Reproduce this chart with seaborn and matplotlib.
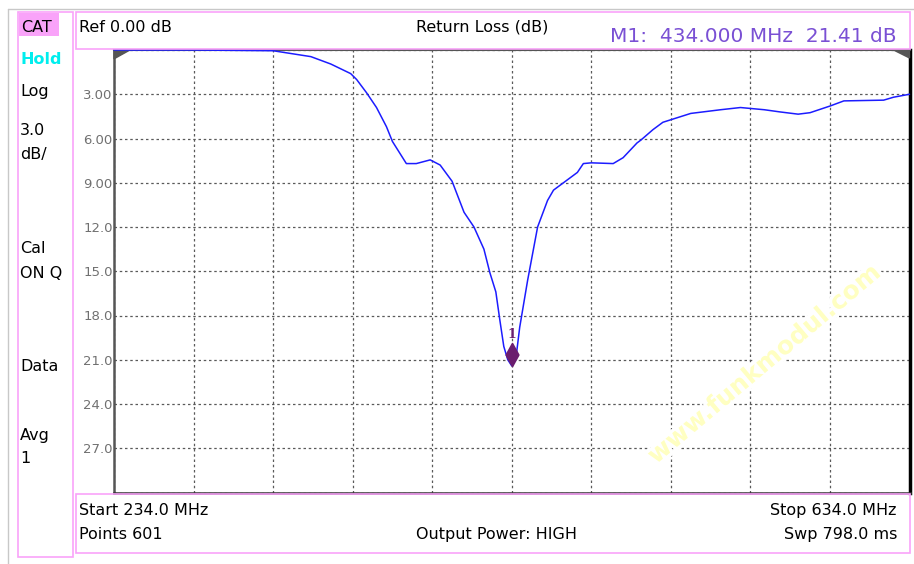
import numpy as np
import matplotlib
matplotlib.use("Agg")
import matplotlib.pyplot as plt
import matplotlib.patches as mpatches
import matplotlib.patheffects as pe
from matplotlib.path import Path
import seaborn as sns

# Trace (frequency in MHz, return loss in dB)
freq_mhz = [234, 274, 314, 333, 343, 353, 356, 361, 366, 371, 374, 381, 386, 393,
            398, 404, 410, 415, 420, 423, 426, 428, 430, 432, 434, 436, 438, 442,
            447, 452, 455, 462, 467, 470, 474, 485, 490, 497, 499, 505, 510, 524,
            539, 549, 561, 569, 578, 584, 594, 601, 621, 626, 634]
return_loss_db = [0.0, 0.0, 0.05, 0.45, 0.95, 1.6, 2.0, 2.9, 3.9, 5.2, 6.2, 7.7, 7.7, 7.45,
                  7.8, 8.9, 11.0, 12.0, 13.5, 15.1, 16.4, 18.3, 20.1, 21.0, 21.41, 21.0, 18.8, 15.6,
                  12.0, 10.2, 9.5, 8.8, 8.3, 7.7, 7.65, 7.7, 7.3, 6.3, 6.1, 5.4, 4.9, 4.3,
                  4.05, 3.9, 4.05, 4.2, 4.35, 4.25, 3.8, 3.45, 3.4, 3.2, 3.0]

marker_freq = 434.000
marker_db = 21.41

start_mhz = 234.0
stop_mhz = 634.0
ref_db = 0.0
scale_db = 3.0
y_tick_labels = ["", "3.00", "6.00", "9.00", "12.0", "15.0", "18.0", "21.0", "24.0", "27.0", ""]

sidebar_labels = ["Log", "3.0", "dB/", "Cal", "ON Q", "Data", "Avg", "1"]
sidebar_baselines = [96, 135, 159, 253, 278, 371, 440, 463]

W, H = 914, 564


def fx(px):
    return px / W


def fy(py):
    return 1 - py / H


sns.set_style("white")
plt.rcParams["font.family"] = ["DejaVu Sans"]
plt.rcParams["text.color"] = "black"

fig = plt.figure(figsize=(W / 100, H / 100), dpi=100)
fig.patch.set_facecolor("white")

# outer frame of the screen capture
fig.add_artist(plt.Line2D([fx(8), fx(8)], [fy(9), 0], color="#c8c8c8", lw=1))
fig.add_artist(plt.Line2D([fx(8), 1], [fy(9), fy(9)], color="#c8c8c8", lw=1))

pink = "#f9a3f9"
# side panel, header and footer boxes
for x0, y0, x1, y1 in [(18, 12, 73, 557), (76, 12, 910, 49), (76, 494, 910, 553)]:
    fig.add_artist(mpatches.Rectangle((fx(x0), fy(y1)), fx(x1 - x0), (y1 - y0) / H,
                                      fill=False, edgecolor=pink, lw=1.2))
fig.add_artist(mpatches.Rectangle((fx(19), fy(36)), fx(40), 23 / H,
                                  facecolor=pink, edgecolor="none"))

ax = fig.add_axes([fx(114), fy(492.5), (909.5 - 114) / W, (492.5 - 50) / H])

sns.lineplot(x=freq_mhz, y=return_loss_db, ax=ax, color="#1c1cff", linewidth=1.1,
             clip_on=False, zorder=5)

# marker diamond with its tip on the trace
diamond = Path([(0, 0), (0.55, 1), (0, 2), (-0.55, 1), (0, 0)],
               [Path.MOVETO, Path.LINETO, Path.LINETO, Path.LINETO, Path.CLOSEPOLY])
ax.plot([marker_freq], [marker_db], marker=diamond, ms=33, color="#6b1d6e",
        markeredgewidth=1.2, linestyle="none", clip_on=False, zorder=6)
ax.annotate("1", (marker_freq, marker_db), xytext=(0, 22.5), textcoords="offset points",
            ha="center", va="center", fontsize=9, fontweight="bold", family="DejaVu Serif",
            color="#6b1d6e", zorder=6)

ax.set_xlim(start_mhz, stop_mhz)
ax.set_ylim(ref_db + 10 * scale_db, ref_db)
ax.set_xticks(np.linspace(start_mhz, stop_mhz, 11))
ax.set_xticklabels([])
ax.set_yticks(np.arange(11) * scale_db + ref_db)
ax.set_yticklabels(y_tick_labels)
ax.tick_params(length=0, labelsize=9.5, labelcolor="#707070", pad=1)
ax.set_xlabel("")
ax.set_ylabel("")
ax.grid(True, color="#5a5a5a", linestyle=(0, (2, 2.2)), linewidth=0.9)

ax.spines["left"].set_color("#555555")
ax.spines["left"].set_linewidth(1.8)
ax.spines["bottom"].set_color("#333333")
ax.spines["bottom"].set_linewidth(1.8)
ax.spines["right"].set_color("black")
ax.spines["right"].set_linewidth(2.5)
ax.spines["top"].set_color("#555555")
ax.spines["top"].set_linewidth(1.5)

# over-range corner flags
ax.add_patch(mpatches.Polygon([(0, 1), (0.02, 1), (0, 0.98)], closed=True,
                              transform=ax.transAxes, color="#555555", clip_on=False, zorder=4))
ax.add_patch(mpatches.Polygon([(1, 1), (0.98, 1), (1, 0.982)], closed=True,
                              transform=ax.transAxes, color="#555555", clip_on=False, zorder=4))

# watermark
ax.text(0.818, 0.29, "www.funkmodul.com", transform=ax.transAxes, rotation=40,
        ha="center", va="center", fontsize=18, fontweight="bold", color="#ffffc2",
        zorder=3, path_effects=[pe.withStroke(linewidth=5, foreground="white")])

# side panel
fs = 11.5
fig.text(fx(21), fy(31.5), "CAT", fontsize=fs, color="black")
fig.text(fx(20), fy(64), "Hold", fontsize=fs, color="#00eeee", fontweight="bold")
for label, base in zip(sidebar_labels, sidebar_baselines):
    fig.text(fx(20), fy(base), label, fontsize=fs, color="black")

# header
fig.text(fx(79), fy(32), f"Ref {ref_db:.2f} dB", fontsize=fs)
fig.text(fx(482), fy(32), "Return Loss (dB)", fontsize=fs, ha="center")
fig.text(fx(897), fy(42), f"M1:  {marker_freq:.3f} MHz  {marker_db:.2f} dB",
         fontsize=14.5, ha="right", color="#7a50d4")

# footer
fig.text(fx(79), fy(515), f"Start {start_mhz:.1f} MHz", fontsize=fs)
fig.text(fx(79), fy(539), "Points 601", fontsize=fs)
fig.text(fx(497), fy(539), "Output Power: HIGH", fontsize=fs, ha="center")
fig.text(fx(897), fy(515), f"Stop {stop_mhz:.1f} MHz", fontsize=fs, ha="right")
fig.text(fx(897), fy(539), "Swp 798.0 ms", fontsize=fs, ha="right")

fig.savefig("out.png", dpi=100)
